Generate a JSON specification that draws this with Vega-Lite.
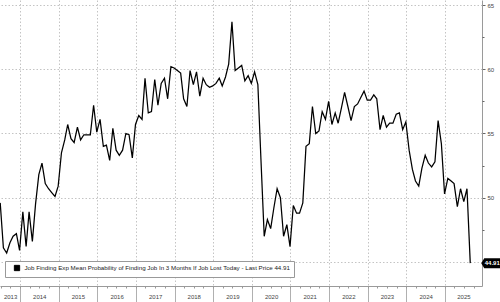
{
  "$schema": "https://vega.github.io/schema/vega-lite/v6.json",
  "width": 482,
  "height": 286,
  "autosize": "none",
  "padding": {"left": 0, "top": 0, "right": 18, "bottom": 16},
  "background": "white",
  "config": {
    "view": {"stroke": null},
    "font": "Liberation Sans",
    "axis": {"labelFont": "Liberation Sans", "labelColor": "#444", "labelFontSize": 6}
  },
  "data": {
    "values": [
      {"date": "2013-06-28", "v": 49.6}, {"date": "2013-07-28", "v": 46.1}, {"date": "2013-08-28", "v": 45.7},
      {"date": "2013-09-28", "v": 46.5}, {"date": "2013-10-28", "v": 47.0}, {"date": "2013-11-28", "v": 47.2},
      {"date": "2013-12-28", "v": 45.9}, {"date": "2014-01-28", "v": 48.9}, {"date": "2014-02-28", "v": 46.2},
      {"date": "2014-03-28", "v": 48.9}, {"date": "2014-04-28", "v": 46.6}, {"date": "2014-05-28", "v": 49.5},
      {"date": "2014-06-28", "v": 51.8}, {"date": "2014-07-28", "v": 52.7}, {"date": "2014-08-28", "v": 51.1},
      {"date": "2014-09-28", "v": 50.7}, {"date": "2014-10-28", "v": 50.4}, {"date": "2014-11-28", "v": 50.1},
      {"date": "2014-12-28", "v": 50.9}, {"date": "2015-01-28", "v": 53.5}, {"date": "2015-02-28", "v": 54.5},
      {"date": "2015-03-28", "v": 55.7}, {"date": "2015-04-28", "v": 54.6}, {"date": "2015-05-28", "v": 54.3},
      {"date": "2015-06-28", "v": 55.5}, {"date": "2015-07-28", "v": 54.5}, {"date": "2015-08-28", "v": 54.9},
      {"date": "2015-09-28", "v": 54.9}, {"date": "2015-10-28", "v": 54.9}, {"date": "2015-11-28", "v": 57.2},
      {"date": "2015-12-28", "v": 55.1}, {"date": "2016-01-28", "v": 56.1}, {"date": "2016-02-28", "v": 54.0},
      {"date": "2016-03-28", "v": 54.1}, {"date": "2016-04-28", "v": 52.9}, {"date": "2016-05-28", "v": 55.4},
      {"date": "2016-06-28", "v": 53.7}, {"date": "2016-07-28", "v": 53.3}, {"date": "2016-08-28", "v": 53.7},
      {"date": "2016-09-28", "v": 55.0}, {"date": "2016-10-28", "v": 54.9}, {"date": "2016-11-28", "v": 53.1},
      {"date": "2016-12-28", "v": 55.7}, {"date": "2017-01-28", "v": 56.4}, {"date": "2017-02-28", "v": 56.1},
      {"date": "2017-03-28", "v": 59.3}, {"date": "2017-04-28", "v": 56.6}, {"date": "2017-05-28", "v": 56.7},
      {"date": "2017-06-28", "v": 59.2}, {"date": "2017-07-28", "v": 57.2}, {"date": "2017-08-28", "v": 58.9},
      {"date": "2017-09-28", "v": 59.3}, {"date": "2017-10-28", "v": 57.7}, {"date": "2017-11-28", "v": 60.2},
      {"date": "2017-12-28", "v": 60.1}, {"date": "2018-01-28", "v": 59.9}, {"date": "2018-02-28", "v": 59.7},
      {"date": "2018-03-28", "v": 57.7}, {"date": "2018-04-28", "v": 57.1}, {"date": "2018-05-28", "v": 59.9},
      {"date": "2018-06-28", "v": 58.8}, {"date": "2018-07-28", "v": 59.8}, {"date": "2018-08-28", "v": 57.9},
      {"date": "2018-09-28", "v": 59.3}, {"date": "2018-10-28", "v": 58.8}, {"date": "2018-11-28", "v": 58.6},
      {"date": "2018-12-28", "v": 58.7}, {"date": "2019-01-28", "v": 58.9}, {"date": "2019-02-28", "v": 59.3},
      {"date": "2019-03-28", "v": 58.7}, {"date": "2019-04-28", "v": 59.4}, {"date": "2019-05-28", "v": 60.4},
      {"date": "2019-06-28", "v": 63.7}, {"date": "2019-07-28", "v": 59.9}, {"date": "2019-08-28", "v": 60.1},
      {"date": "2019-09-28", "v": 60.3}, {"date": "2019-10-28", "v": 59.1}, {"date": "2019-11-28", "v": 59.5},
      {"date": "2019-12-28", "v": 58.9}, {"date": "2020-01-28", "v": 59.8}, {"date": "2020-02-28", "v": 58.8},
      {"date": "2020-03-28", "v": 53.0}, {"date": "2020-04-28", "v": 47.0}, {"date": "2020-05-28", "v": 48.3},
      {"date": "2020-06-28", "v": 47.6}, {"date": "2020-07-28", "v": 49.2}, {"date": "2020-08-28", "v": 50.7},
      {"date": "2020-09-28", "v": 50.0}, {"date": "2020-10-28", "v": 47.0}, {"date": "2020-11-28", "v": 47.9},
      {"date": "2020-12-28", "v": 46.2}, {"date": "2021-01-28", "v": 49.4}, {"date": "2021-02-28", "v": 48.8},
      {"date": "2021-03-28", "v": 48.8}, {"date": "2021-04-28", "v": 49.6}, {"date": "2021-05-28", "v": 54.0},
      {"date": "2021-06-28", "v": 54.2}, {"date": "2021-07-28", "v": 57.1}, {"date": "2021-08-28", "v": 55.0},
      {"date": "2021-09-28", "v": 55.2}, {"date": "2021-10-28", "v": 56.7}, {"date": "2021-11-28", "v": 56.1},
      {"date": "2021-12-28", "v": 57.5}, {"date": "2022-01-28", "v": 55.7}, {"date": "2022-02-28", "v": 56.6},
      {"date": "2022-03-28", "v": 55.8}, {"date": "2022-04-28", "v": 57.0}, {"date": "2022-05-28", "v": 58.2},
      {"date": "2022-06-28", "v": 57.1}, {"date": "2022-07-28", "v": 56.0}, {"date": "2022-08-28", "v": 57.1},
      {"date": "2022-09-28", "v": 57.3}, {"date": "2022-10-28", "v": 57.8}, {"date": "2022-11-28", "v": 58.3},
      {"date": "2022-12-28", "v": 57.6}, {"date": "2023-01-28", "v": 57.6}, {"date": "2023-02-28", "v": 58.0},
      {"date": "2023-03-28", "v": 57.7}, {"date": "2023-04-28", "v": 55.3}, {"date": "2023-05-28", "v": 56.4},
      {"date": "2023-06-28", "v": 55.5}, {"date": "2023-07-28", "v": 55.8}, {"date": "2023-08-28", "v": 55.8},
      {"date": "2023-09-28", "v": 56.5}, {"date": "2023-10-28", "v": 56.6}, {"date": "2023-11-28", "v": 55.3},
      {"date": "2023-12-28", "v": 55.9}, {"date": "2024-01-28", "v": 53.7}, {"date": "2024-02-28", "v": 52.2},
      {"date": "2024-03-28", "v": 51.3}, {"date": "2024-04-28", "v": 50.9}, {"date": "2024-05-28", "v": 52.3},
      {"date": "2024-06-28", "v": 53.3}, {"date": "2024-07-28", "v": 52.7}, {"date": "2024-08-28", "v": 52.4},
      {"date": "2024-09-28", "v": 52.8}, {"date": "2024-10-28", "v": 56.0}, {"date": "2024-11-28", "v": 54.2},
      {"date": "2024-12-28", "v": 50.3}, {"date": "2025-01-28", "v": 51.5}, {"date": "2025-02-28", "v": 51.3},
      {"date": "2025-03-28", "v": 51.1}, {"date": "2025-04-28", "v": 49.3}, {"date": "2025-05-28", "v": 50.7},
      {"date": "2025-06-28", "v": 49.7}, {"date": "2025-07-28", "v": 50.7}, {"date": "2025-08-28", "v": 44.91}
    ]
  },
  "resolve": {"axis": {"x": "independent", "y": "independent"}},
  "layer": [
    {
      "mark": {"type": "line", "color": "#111", "strokeWidth": 1.25},
      "encoding": {
        "x": {
          "field": "date", "type": "temporal",
          "scale": {"domain": [{"year": 2013, "month": 6, "date": 26}, {"year": 2025, "month": 12, "date": 17}]},
          "axis": {
            "orient": "bottom", "title": null, "labels": false,
            "values": [{"year": 2014}, {"year": 2015}, {"year": 2016}, {"year": 2017}, {"year": 2018}, {"year": 2019}, {"year": 2020}, {"year": 2021}, {"year": 2022}, {"year": 2023}, {"year": 2024}, {"year": 2025}],
            "grid": true, "gridDash": [1.5, 2], "gridColor": "#c4c4c4", "gridWidth": 1,
            "tickSize": 16, "tickColor": "#b0b0b0", "domainColor": "#9a9a9a", "domainWidth": 1
          }
        },
        "y": {
          "field": "v", "type": "quantitative",
          "scale": {"domain": [43.13, 65.39], "nice": false, "zero": false},
          "axis": {
            "orient": "right", "title": null,
            "values": [45, 50, 55, 60, 65],
            "labelExpr": "datum.value == 45 ? '' : datum.label",
            "grid": true, "gridDash": [1.5, 2], "gridColor": "#c4c4c4",
            "tickSize": 3, "tickColor": "#666", "labelPadding": 2,
            "domainColor": "#9a9a9a", "labelBaseline": "middle"
          }
        },
        "color": {
          "datum": "Job Finding Exp Mean Probability of Finding Job In 3 Months If Job Lost Today - Last Price 44.91",
          "scale": {"range": ["#000000"]},
          "legend": {
            "title": null, "orient": "none", "legendX": 5, "legendY": 261,
            "fillColor": "white", "strokeColor": "#999", "padding": 3.5,
            "symbolType": "square", "symbolSize": 28, "symbolFillColor": "#000", "symbolStrokeColor": "#000",
            "symbolStrokeWidth": 1, "symbolOffset": 5, "labelFontSize": 6.2, "labelFont": "Liberation Sans", "labelColor": "#222",
            "labelLimit": 0
          }
        }
      }
    },
    {
      "transform": [{"filter": "datum.v < 45"}],
      "mark": {"type": "point", "filled": true, "color": "#000", "opacity": 1, "size": 4,
               "shape": "M 11,0 L 14,-5 L 31,-5 L 31,5 L 14,5 Z"},
      "encoding": {
        "x": {
          "field": "date", "type": "temporal",
          "axis": {
            "orient": "bottom", "title": null, "domain": false, "grid": false, "ticks": false,
            "labelPadding": 7,
            "values": [{"year": 2013, "month": 9, "date": 29}, {"year": 2014, "month": 7, "date": 2}, {"year": 2015, "month": 7, "date": 2}, {"year": 2016, "month": 7, "date": 2}, {"year": 2017, "month": 7, "date": 2}, {"year": 2018, "month": 7, "date": 2}, {"year": 2019, "month": 7, "date": 2}, {"year": 2020, "month": 7, "date": 2}, {"year": 2021, "month": 7, "date": 2}, {"year": 2022, "month": 7, "date": 2}, {"year": 2023, "month": 7, "date": 2}, {"year": 2024, "month": 7, "date": 2}, {"year": 2025, "month": 6, "date": 24}],
            "labelExpr": "timeFormat(datum.value, '%Y')",
            "labelFlush": false, "labelOverlap": false
          }
        },
        "y": {
          "field": "v", "type": "quantitative",
          "axis": {
            "orient": "right", "title": null, "domain": false, "grid": false, "labels": false,
            "values": [47.5, 52.5, 57.5, 62.5], "tickSize": 2, "tickColor": "#666"
          }
        }
      }
    },
    {
      "transform": [{"filter": "datum.v < 45"}],
      "mark": {"type": "text", "color": "white", "fontSize": 6, "fontWeight": "bold", "dx": 22, "align": "center", "baseline": "middle", "font": "Liberation Sans"},
      "encoding": {
        "x": {
          "field": "date", "type": "temporal",
          "axis": {
            "orient": "bottom", "title": null, "domain": false, "grid": false, "labels": false,
            "tickCount": {"interval": "month", "step": 3}, "tickSize": 2, "tickColor": "#999"
          }
        },
        "y": {"field": "v", "type": "quantitative", "axis": null},
        "text": {"field": "v", "type": "quantitative", "format": ".2f"}
      }
    }
  ]
}
